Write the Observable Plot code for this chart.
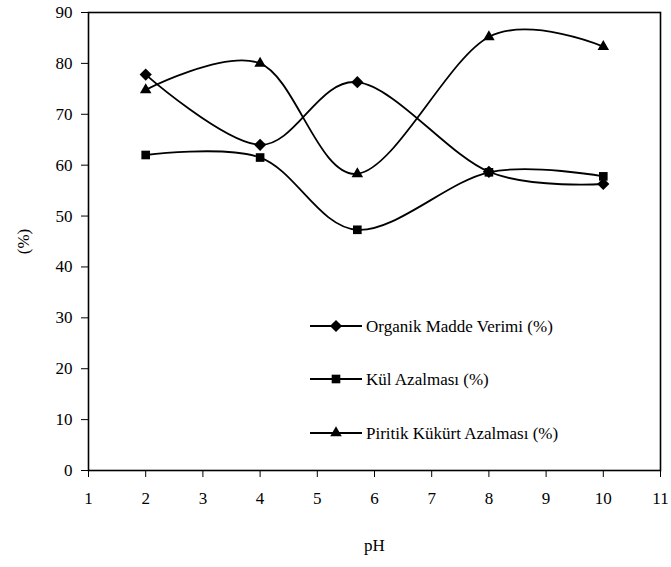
<!DOCTYPE html>
<html><head><meta charset="utf-8">
<script src="https://cdn.jsdelivr.net/npm/d3@7"></script>
<script src="https://cdn.jsdelivr.net/npm/@observablehq/plot@0.6"></script>
</head>
<body style="margin:0;background:#fff">
<div id="wrap" style="position:relative;width:671px;height:567px"></div>
<script>
const pH = [2, 4, 5.7, 8, 10];
const seriesNames = ["Organik Madde Verimi (%)", "Kül Azalması (%)", "Piritik Kükürt Azalması (%)"];
const organik = [77.8, 64.0, 76.3, 58.7, 56.3];
const kul = [62.0, 61.5, 47.3, 58.6, 57.8];
const piritik = [74.8, 80.0, 58.3, 85.2, 83.3];
const symbols = ["diamond2", "square2", "triangle2"];
const xTicks = [1,2,3,4,5,6,7,8,9,10,11];
const yTicks = [0,10,20,30,40,50,60,70,80,90];

const values = [organik, kul, piritik];
const data = [];
seriesNames.forEach((s, i) => pH.forEach((x, j) => data.push({series: s, x, y: values[i][j], sym: symbols[i]})));

const chart = Plot.plot({
  width: 671, height: 567,
  marginLeft: 88, marginRight: 11, marginTop: 12, marginBottom: 97,
  style: {fontFamily: "Liberation Serif", fontSize: "17px", color: "#000", background: "#fff"},
  x: {domain: [1, 11]},
  y: {domain: [0, 90]},
  symbol: {domain: symbols, range: symbols},
  marks: [
    Plot.frame({stroke: "#000", strokeWidth: 1.6}),
    Plot.axisX({ticks: xTicks, tickSize: 7, tickPadding: 14, tickFormat: d => String(d), label: "pH", labelAnchor: "center", labelArrow: "none", labelOffset: 80}),
    Plot.axisY({ticks: yTicks, tickSize: 7, tickPadding: 9, tickFormat: d => String(d), label: "(%)", labelAnchor: "center", labelArrow: "none", labelOffset: 72}),
    Plot.line(data, {x: "x", y: "y", z: "series", curve: "cardinal", stroke: "#000", strokeWidth: 1.8}),
    Plot.dot(data, {x: "x", y: "y", symbol: "sym", fill: "#000", stroke: "none", r: 5.5})
  ]
});
document.getElementById("wrap").appendChild(chart);

// legend overlay
const leg = d3.select("#wrap").append("svg").attr("width", 671).attr("height", 567)
  .style("position", "absolute").style("left", "0px").style("top", "0px")
  .style("font-family", "Liberation Serif");
const rowsY = [326, 379, 433];
seriesNames.forEach((s, i) => {
  const g = leg.append("g").attr("transform", `translate(0,${rowsY[i]})`);
  g.append("line").attr("x1", 310).attr("x2", 362).attr("y1", 0).attr("y2", 0).attr("stroke", "#000").attr("stroke-width", 1.8);
  const sym = {diamond2: d3.symbolDiamond2, square2: d3.symbolSquare2, triangle2: d3.symbolTriangle2}[symbols[i]];
  g.append("path").attr("d", d3.symbol(sym, 95)()).attr("transform", "translate(336,0)").attr("fill", "#000");
  g.append("text").attr("x", 366).attr("y", 0).attr("dy", "0.35em").attr("font-size", 17).text(s);
});
</script></body></html>
